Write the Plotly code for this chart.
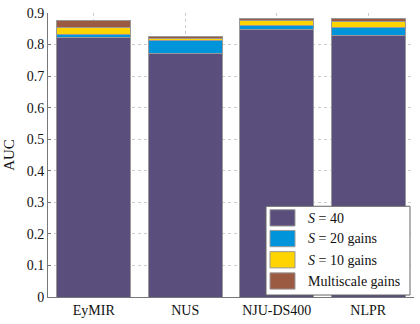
import plotly.graph_objects as go

categories = ["EyMIR", "NUS", "NJU-DS400", "NLPR"]
s40 = [0.822, 0.771, 0.848, 0.830]
s20_gain = [0.011, 0.042, 0.011, 0.023]
s10_gain = [0.020, 0.005, 0.016, 0.020]
multi_gain = [0.024, 0.008, 0.009, 0.0095]

series = [
    ("<i>S</i> = 40", s40, "#5a4e7c"),
    ("<i>S</i> = 20 gains", s20_gain, "#0095db"),
    ("<i>S</i> = 10 gains", s10_gain, "#ffd400"),
    ("Multiscale gains", multi_gain, "#9b5b43"),
]

W, H = 420, 324
ML, MR, MT, MB = 48, 6, 13, 23
PW, PH = W - ML - MR, H - MT - MB


def px(x):
    return (x - ML) / PW


def py(y):
    return 1 - (y - MT) / PH


SERIF = "Liberation Serif, Times New Roman, serif"
font = dict(family=SERIF, size=14, color="#111")

fig = go.Figure()
for name, vals, col in series:
    fig.add_trace(go.Bar(
        x=categories, y=vals, name=name,
        marker=dict(color=col, line=dict(color="#999999", width=1)),
        showlegend=False,
    ))

shapes = []
annotations = []
shapes.append(dict(type="rect", xref="paper", yref="paper",
                   x0=px(266), x1=px(410), y0=py(299), y1=py(209),
                   fillcolor="white", line=dict(color="#666", width=1), layer="above"))
row_tops = [212.5, 233.5, 255, 276.5]
for (name, vals, col), top in zip(series, row_tops):
    shapes.append(dict(type="rect", xref="paper", yref="paper",
                       x0=px(270), x1=px(295), y0=py(top + 16.5), y1=py(top),
                       fillcolor=col, line=dict(color="#999", width=1), layer="above"))
    annotations.append(dict(xref="paper", yref="paper", x=px(306), y=py(top + 8.5),
                            xanchor="left", yanchor="middle", text=name, showarrow=False,
                            font=dict(family=SERIF, size=14, color="#111")))

fig.update_layout(
    width=W, height=H,
    barmode="stack", bargap=0.19,
    margin=dict(l=ML, r=MR, t=MT, b=MB),
    paper_bgcolor="white", plot_bgcolor="white",
    font=font,
    shapes=shapes, annotations=annotations,
    xaxis=dict(
        showgrid=True, gridcolor="#cccccc", griddash="dot", gridwidth=1,
        showline=True, linecolor="#777", linewidth=1, mirror=False,
        ticks="", tickfont=font,
    ),
    yaxis=dict(
        range=[0, 0.9],
        tickvals=[0, 0.1, 0.2, 0.3, 0.4, 0.5, 0.6, 0.7, 0.8, 0.9],
        ticktext=["0", "0.1", "0.2", "0.3", "0.4", "0.5", "0.6", "0.7", "0.8", "0.9"],
        showgrid=True, gridcolor="#cccccc", griddash="dot", gridwidth=1,
        showline=True, linecolor="#777", linewidth=1,
        ticks="inside", ticklen=3, tickcolor="#777",
        zeroline=False, tickfont=font,
        title=dict(text="AUC", font=dict(family=SERIF, size=15, color="#111"), standoff=8),
    ),
)
fig.write_html("out.html")
